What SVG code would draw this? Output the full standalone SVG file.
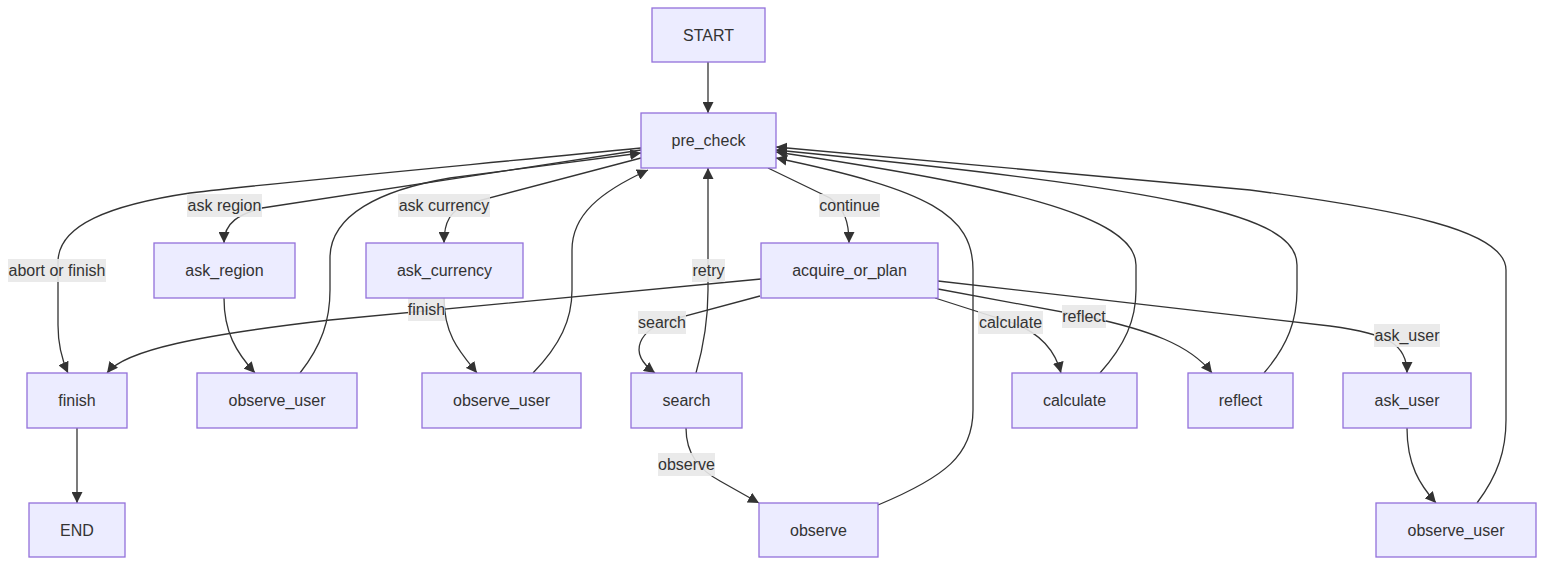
<svg xmlns="http://www.w3.org/2000/svg" width="1560" height="573" viewBox="0 0 1560 573">
<style>
.node rect{fill:#ECECFF;stroke:#9370DB;stroke-width:1.3}
.node text,.lbl text{font-family:"Liberation Sans",Arial,sans-serif;font-size:16px;fill:#333;text-anchor:middle;dominant-baseline:central}
.edges path{fill:none;stroke:#333;stroke-width:1.3}
.lbl rect{fill:#E8E8E8;opacity:0.9}
</style>
<defs>
<marker id="arr" viewBox="0 0 10 10" refX="10" refY="5" markerUnits="userSpaceOnUse" markerWidth="11" markerHeight="11" orient="auto">
<path d="M0,0 L10,5 L0,10 z" fill="#333"/>
</marker>
</defs>
<rect width="1560" height="573" fill="#fff"/>
<g class="edges">
<path d="M708,62 L708,113" marker-end="url(#arr)"/>
<path d="M641,148 C470,165 300,180 190,193 C110,205 58,225 58,262 L58,325 C58,348 63,362 68,373" marker-end="url(#arr)"/>
<path d="M641,150 L262,208 C240,214 224,222 224,243" marker-end="url(#arr)"/>
<path d="M224,298 C224,332 236,352 255,373" marker-end="url(#arr)"/>
<path d="M300,373 C322,345 330,320 330,290 L330,258 C330,215 380,190 450,178 L641,153" marker-end="url(#arr)"/>
<path d="M641,158 L470,203 C450,210 444,222 444,243" marker-end="url(#arr)"/>
<path d="M444,298 C444,335 460,352 477,373" marker-end="url(#arr)"/>
<path d="M533,373 C560,345 572,320 572,290 L572,250 C572,215 600,192 648,170" marker-end="url(#arr)"/>
<path d="M768,168 L830,198 C845,210 849,222 849,243" marker-end="url(#arr)"/>
<path d="M761,279 L330,320 C200,335 125,350 107,373" marker-end="url(#arr)"/>
<path d="M760,296 L670,320 C640,330 626,352 655,373" marker-end="url(#arr)"/>
<path d="M696,373 C704,345 708,320 708,290 L708,168" marker-end="url(#arr)"/>
<path d="M686,428 C686,455 700,470 720,481 L759,503" marker-end="url(#arr)"/>
<path d="M878,505 C945,477 973,455 973,410 L973,270 C973,215 930,190 776,158" marker-end="url(#arr)"/>
<path d="M935,298 L1010,322 C1040,332 1055,350 1061,373" marker-end="url(#arr)"/>
<path d="M1100,373 C1125,345 1136,320 1136,290 L1136,265 C1136,215 1000,185 776,152" marker-end="url(#arr)"/>
<path d="M938,289 L1084,316 C1150,330 1190,345 1212,373" marker-end="url(#arr)"/>
<path d="M1264,373 C1288,345 1297,320 1297,290 L1297,265 C1297,215 1180,190 776,150" marker-end="url(#arr)"/>
<path d="M938,281 L1330,326 C1390,334 1407,345 1407,373" marker-end="url(#arr)"/>
<path d="M1407,428 C1407,465 1420,485 1436,503" marker-end="url(#arr)"/>
<path d="M1477,503 C1498,475 1506,450 1506,420 L1506,270 C1506,230 1400,210 1250,190 L776,147" marker-end="url(#arr)"/>
<path d="M77,428 L77,503" marker-end="url(#arr)"/>
</g>
<g class="lbl">
<rect x="8" y="259" width="98" height="23"/><text x="57" y="270.5">abort or finish</text>
<rect x="187" y="194" width="75" height="23"/><text x="224.5" y="205.5">ask region</text>
<rect x="398" y="194" width="92" height="23"/><text x="444" y="205.5">ask currency</text>
<rect x="819" y="194" width="61" height="23"/><text x="849.5" y="205.5">continue</text>
<rect x="692" y="259" width="33" height="23"/><text x="708.5" y="270.5">retry</text>
<rect x="408" y="298" width="37" height="23"/><text x="426.5" y="309.5">finish</text>
<rect x="638" y="311" width="48" height="23"/><text x="662" y="322.5">search</text>
<rect x="978" y="311" width="65" height="23"/><text x="1010.5" y="322.5">calculate</text>
<rect x="1062" y="305" width="44" height="23"/><text x="1084" y="316.5">reflect</text>
<rect x="1374" y="324" width="66" height="23"/><text x="1407" y="335.5">ask_user</text>
<rect x="658" y="453" width="57" height="23"/><text x="686.5" y="464.5">observe</text>
</g>
<g id="start" class="node"><rect x="652" y="8" width="113" height="54"/><text x="708.5" y="35">START</text></g>
<g id="pre_check" class="node"><rect x="641" y="113" width="135" height="55"/><text x="708.5" y="140.5">pre_check</text></g>
<g id="ask_region" class="node"><rect x="154" y="243" width="141" height="55"/><text x="224.5" y="270.5">ask_region</text></g>
<g id="ask_currency" class="node"><rect x="366" y="243" width="157" height="55"/><text x="444.5" y="270.5">ask_currency</text></g>
<g id="acquire_or_plan" class="node"><rect x="761" y="243" width="177" height="55"/><text x="849.5" y="270.5">acquire_or_plan</text></g>
<g id="finish" class="node"><rect x="27" y="373" width="100" height="55"/><text x="77" y="400.5">finish</text></g>
<g id="observe_user_1" class="node"><rect x="197" y="373" width="160" height="55"/><text x="277" y="400.5">observe_user</text></g>
<g id="observe_user_2" class="node"><rect x="422" y="373" width="159" height="55"/><text x="501.5" y="400.5">observe_user</text></g>
<g id="search" class="node"><rect x="631" y="373" width="111" height="55"/><text x="686.5" y="400.5">search</text></g>
<g id="calculate" class="node"><rect x="1012" y="373" width="125" height="55"/><text x="1074.5" y="400.5">calculate</text></g>
<g id="reflect" class="node"><rect x="1188" y="373" width="105" height="55"/><text x="1240.5" y="400.5">reflect</text></g>
<g id="ask_user" class="node"><rect x="1343" y="373" width="128" height="55"/><text x="1407" y="400.5">ask_user</text></g>
<g id="end" class="node"><rect x="29" y="503" width="96" height="54"/><text x="77" y="530">END</text></g>
<g id="observe" class="node"><rect x="759" y="503" width="119" height="54"/><text x="818.5" y="530">observe</text></g>
<g id="observe_user_3" class="node"><rect x="1376" y="503" width="160" height="54"/><text x="1456" y="530">observe_user</text></g>
</svg>
